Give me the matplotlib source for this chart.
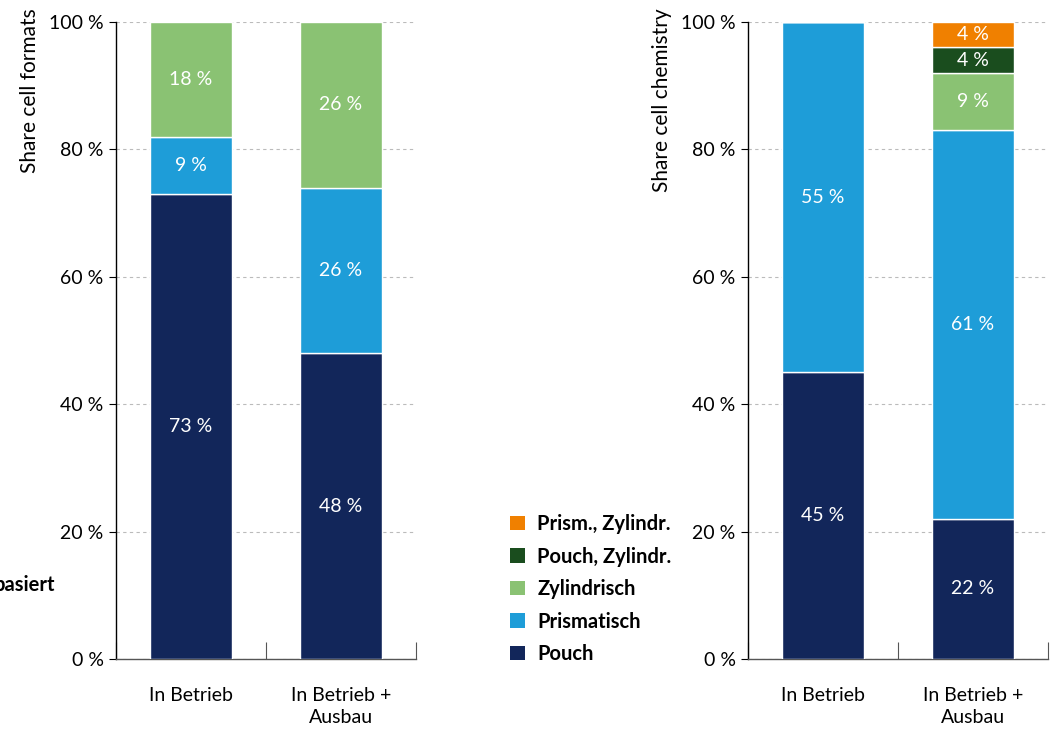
import matplotlib.pyplot as plt
from matplotlib.patches import Patch
from matplotlib.ticker import FixedLocator

plt.rcParams['font.family'] = ['Lato', 'DejaVu Sans']

categories = ['In Betrieb', 'In Betrieb +\nAusbau']

# cell formats (left chart)
fmt_pouch = [73, 48]
fmt_prism = [9, 26]
fmt_zyl = [18, 26]

# cell chemistry (right chart)
chem_pouch = [45, 22]
chem_prism = [55, 61]
chem_zyl = [0, 9]
chem_pouch_zyl = [0, 4]
chem_prism_zyl = [0, 4]

yticks = [0, 20, 40, 60, 80, 100]
ytick_labels = ['0 %', '20 %', '40 %', '60 %', '80 %', '100 %']

colors = {
    'Pouch': '#12265A',
    'Prismatisch': '#1E9DD8',
    'Zylindrisch': '#8AC273',
    'Pouch, Zylindr.': '#1A4D1E',
    'Prism., Zylindr.': '#F08000',
}

FS = 14


def draw_stack(ax, series, ylabel):
    x = [0.5, 1.5]
    bottom = [0, 0]
    for name, vals in series:
        bars = ax.bar(x, vals, width=0.55, bottom=bottom, color=colors[name],
                      edgecolor='white', linewidth=1, zorder=3)
        for b, v, bt in zip(bars, vals, bottom):
            if v > 0:
                ax.text(b.get_x() + b.get_width() / 2, bt + v / 2, f'{v} %',
                        ha='center', va='center', color='white', fontsize=FS, zorder=4)
        bottom = [a + b for a, b in zip(bottom, vals)]
    ax.set_xlim(0, 2)
    ax.set_ylim(0, 100)
    ax.set_yticks(yticks)
    ax.set_yticklabels(ytick_labels, fontsize=FS)
    ax.set_xticks(x)
    ax.set_xticklabels(categories, fontsize=FS, linespacing=1.4)
    ax.tick_params(axis='x', which='major', length=0, pad=20)
    ax.xaxis.set_minor_locator(FixedLocator([0, 1, 2]))
    ax.tick_params(axis='x', which='minor', direction='in', length=12, width=0.8, color='#555555')
    ax.tick_params(axis='y', length=5, width=0.8, pad=4)
    ax.set_ylabel(ylabel, fontsize=15)
    ax.yaxis.set_label_coords(-0.32, 1.022)
    ax.yaxis.label.set_va('top')
    ax.yaxis.label.set_ha('right')
    for s in ['top', 'right']:
        ax.spines[s].set_visible(False)
    ax.spines['left'].set_linewidth(1)
    ax.spines['bottom'].set_linewidth(1)
    ax.spines['bottom'].set_color('#555555')
    ax.grid(axis='y', linestyle=(0, (3, 3)), color='#BBBBBB', linewidth=0.8, zorder=0)


fig = plt.figure(figsize=(10.52, 7.29), dpi=100)
ax1 = fig.add_axes([116 / 1052, 70 / 729, 300 / 1052, 637 / 729])
ax2 = fig.add_axes([748 / 1052, 70 / 729, 300 / 1052, 637 / 729])

draw_stack(ax1, [('Pouch', fmt_pouch), ('Prismatisch', fmt_prism),
                 ('Zylindrisch', fmt_zyl)], 'Share cell formats')
draw_stack(ax2, [('Pouch', chem_pouch), ('Prismatisch', chem_prism),
                 ('Zylindrisch', chem_zyl), ('Pouch, Zylindr.', chem_pouch_zyl),
                 ('Prism., Zylindr.', chem_prism_zyl)], 'Share cell chemistry')

legend_names = ['Prism., Zylindr.', 'Pouch, Zylindr.', 'Zylindrisch', 'Prismatisch', 'Pouch']
handles = [Patch(facecolor=colors[n], label=n) for n in legend_names]
fig.legend(handles=handles, loc='upper left', bbox_to_anchor=(492 / 1052, 1 - 496 / 729),
           frameon=False, prop={'weight': 'bold', 'size': 14.5},
           handlelength=0.75, handleheight=0.75, handletextpad=0.6, labelspacing=0.62)

fig.text(55 / 1052, 1 - 585 / 729, 'basiert', ha='right', va='center',
         fontsize=14.5, fontweight='bold')

fig.savefig('out.png', dpi=100)
